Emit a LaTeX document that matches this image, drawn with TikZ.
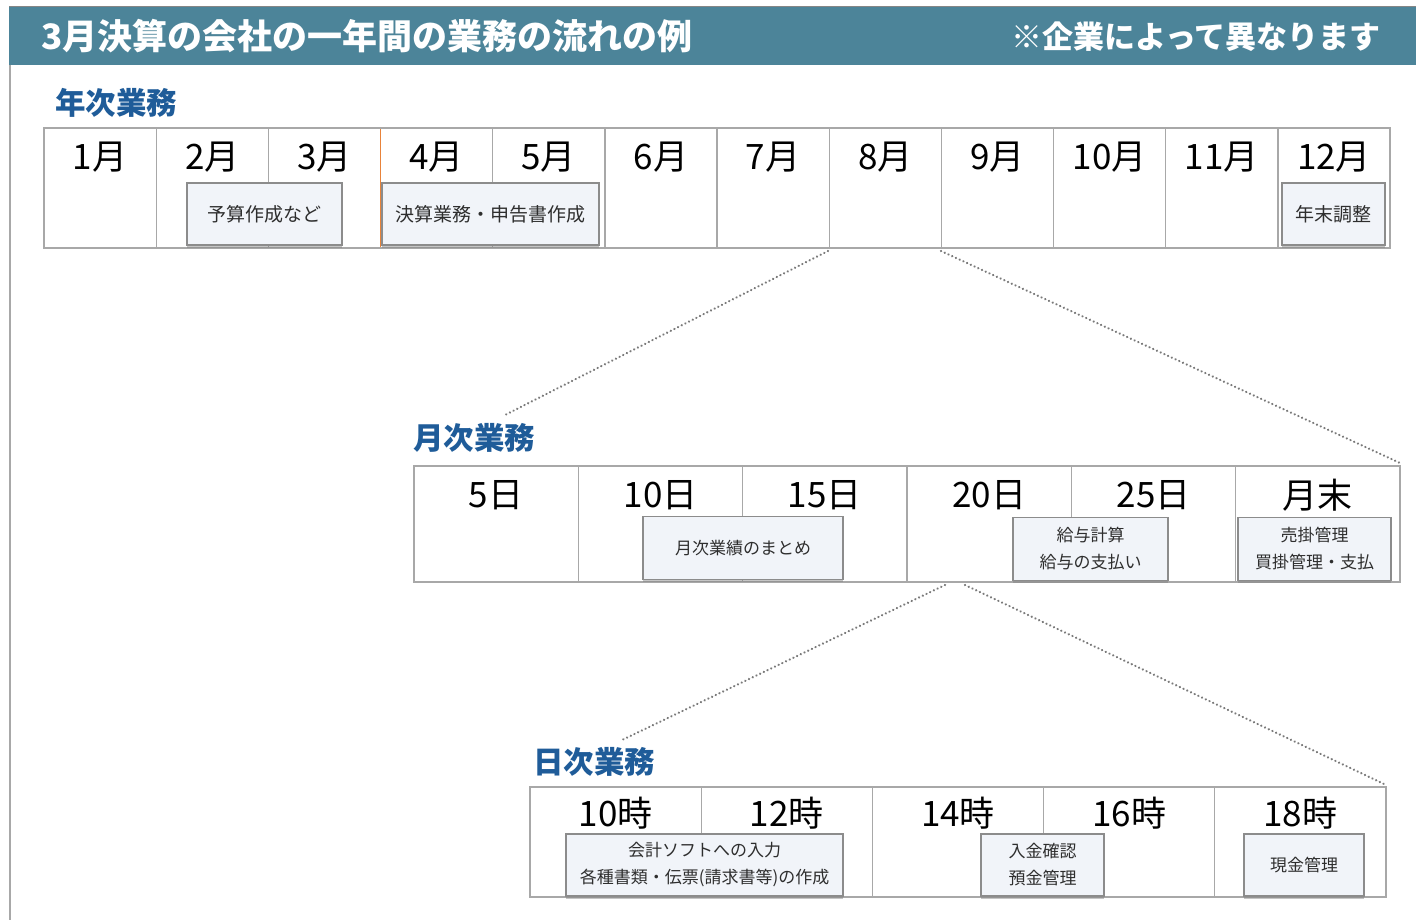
\documentclass[tikz,border=0pt]{standalone}
\usepackage{fontspec}
\setmainfont{Noto Sans CJK JP}
\usetikzlibrary{shadows}
\definecolor{headbar}{HTML}{4C8499}
\definecolor{seclabel}{HTML}{1F5C99}
\definecolor{gridline}{HTML}{A8A8A8}
\definecolor{boxfill}{HTML}{F1F4F9}
\definecolor{boxline}{HTML}{8C8C8C}
\definecolor{boxtext}{HTML}{2E2E2E}
\definecolor{orangeline}{HTML}{E8833A}
\definecolor{dotcol}{HTML}{7A7A7A}
\begin{document}
\begin{tikzpicture}[x=1pt,y=-1pt,
  tableframe/.style={draw=gridline, line width=2pt},
  divider/.style={draw=gridline, line width=1.3pt},
  celllabel/.style={anchor=center, inner sep=0pt, text=black, font=\fontsize{35}{40}\selectfont},
  seclab/.style={anchor=west, inner sep=0pt, text=seclabel, font=\bfseries\fontsize{30.5}{34}\selectfont},
  taskbox/.style={rectangle, draw=boxline, line width=1.2pt, fill=boxfill, inner sep=0pt,
     text=boxtext, align=center, font=\fontsize{17}{27}\selectfont,
     drop shadow={shadow xshift=0pt, shadow yshift=-2.5pt, opacity=0.45, fill=gray}},
  bigtask/.style={taskbox, font=\fontsize{19}{27}\selectfont},
  zoomline/.style={draw=dotcol, line width=2.4pt, line cap=round, dash pattern=on 0.1pt off 4pt}
]
\useasboundingbox (0,0) rectangle (1416,920);
\fill[white] (0,0) rectangle (1416,920);
% header
\fill[headbar] (9,7) rectangle (1416,65);
\draw[gridline!80!black, line width=1pt] (9,7) -- (1416,7);
\draw[gridline, line width=2.5pt] (10,65) -- (10,920);
\node[anchor=west, inner sep=0pt, text=white, font=\bfseries\fontsize{35}{38}\selectfont] (title) at (41,36) {3月決算の会社の一年間の業務の流れの例};
\node[anchor=east, inner sep=0pt, text=white, font=\bfseries\fontsize{31}{36}\selectfont] (note) at (1381,37) {※企業によって異なります};

% ===== year table =====
\node[seclab] (yearlab) at (55,103) {年次業務};
\foreach \i in {1,...,11} {
  \draw[divider] ({44+\i*112.17},128) -- ({44+\i*112.17},248);
}
\draw[orangeline, line width=1.6pt] (380.5,128) -- (380.5,248);
\draw[tableframe] (44,128) rectangle (1390,248);
\foreach \m [count=\i from 0] in {1月,2月,3月,4月,5月,6月,7月,8月,9月,10月,11月,12月} {
  \node[celllabel] (ym\i) at ({44+\i*112.17+56.1},157) {\m};
}
\node[bigtask, minimum width=155, minimum height=62] (yb1) at (264.5,214) {予算作成など};
\node[bigtask, minimum width=217, minimum height=62] (yb2) at (490.5,214) {決算業務・申告書作成};
\node[bigtask, minimum width=103, minimum height=62] (yb3) at (1333.5,214) {年末調整};

% ===== month table =====
\node[seclab] (monthlab) at (413,438) {月次業務};
\foreach \i in {1,...,5} {
  \draw[divider] ({414+\i*164.33},466) -- ({414+\i*164.33},582);
}
\draw[tableframe] (414,466) rectangle (1400,582);
\foreach \m [count=\i from 0] in {5日,10日,15日,20日,25日,月末} {
  \node[celllabel] (md\i) at ({414+\i*164.33+82.2},495) {\m};
}
\node[taskbox, minimum width=200, minimum height=63] (mb1) at (743,548) {月次業績のまとめ};
\node[taskbox, minimum width=155, minimum height=63] (mb2) at (1090.5,549) {給与計算\\給与の支払い};
\node[taskbox, minimum width=153, minimum height=63] (mb3) at (1314.5,549) {売掛管理\\買掛管理・支払};

% ===== day table =====
\node[seclab] (daylab) at (533,762) {日次業務};
\foreach \i in {1,...,4} {
  \draw[divider] ({530+\i*171.2},787) -- ({530+\i*171.2},897);
}
\draw[tableframe] (530,787) rectangle (1386,897);
\foreach \m [count=\i from 0] in {10時,12時,14時,16時,18時} {
  \node[celllabel] (dh\i) at ({530+\i*171.2+85.6},813) {\m};
}
\node[taskbox, minimum width=277, minimum height=62] (db1) at (704.5,865) {会計ソフトへの入力\\各種書類・伝票(請求書等)の作成};
\node[taskbox, minimum width=123, minimum height=62] (db2) at (1042.5,865) {入金確認\\預金管理};
\node[taskbox, minimum width=120, minimum height=62] (db3) at (1304,865) {現金管理};

% ===== zoom connectors =====
\coordinate (yAug) at (828,251);
\coordinate (ySep) at (941,251);
\coordinate (mTL) at (505,415);
\coordinate (mTR) at (1400,463);
\coordinate (m20a) at (945,585);
\coordinate (m20b) at (965,585);
\coordinate (dTL) at (622,740);
\coordinate (dTR) at (1384,784);
\draw[zoomline] (yAug) -- (mTL);
\draw[zoomline] (ySep) -- (mTR);
\draw[zoomline] (m20a) -- (dTL);
\draw[zoomline] (m20b) -- (dTR);
\end{tikzpicture}
\end{document}
